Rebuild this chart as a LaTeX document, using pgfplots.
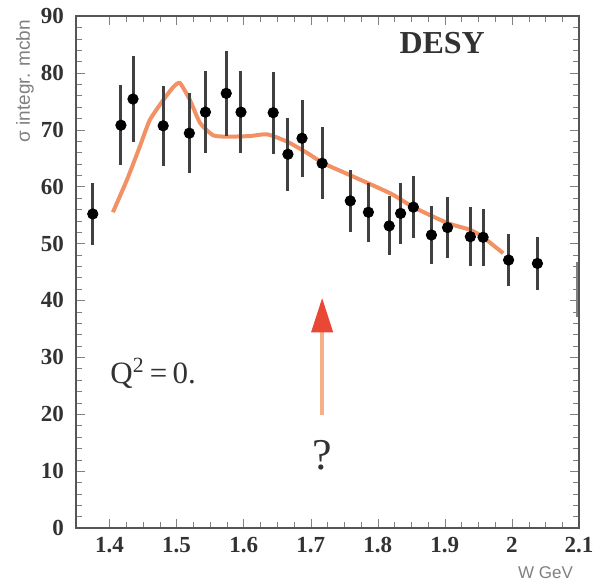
\documentclass[border=0pt]{standalone}
\usepackage{fontspec}
\setmainfont{Liberation Serif}
\setsansfont{Liberation Sans}
\usepackage{pgfplots}
\pgfplotsset{compat=1.18}
\definecolor{fitorange}{RGB}{242,145,100}
\definecolor{arrowshaft}{RGB}{246,175,135}
\definecolor{arrowhead}{RGB}{232,72,52}
\definecolor{framegray}{RGB}{85,85,85}
\definecolor{labgray}{RGB}{50,50,50}
\begin{document}
\begin{tikzpicture}
  \begin{axis}[
    scale only axis,
    width=251.5pt, height=256pt,
    xmin=1.35, xmax=2.1,
    ymin=0, ymax=90,
    xtick={1.4,1.5,1.6,1.7,1.8,1.9,2.0,2.1},
    xticklabels={\textbf{1.4},\textbf{1.5},\textbf{1.6},\textbf{1.7},\textbf{1.8},\textbf{1.9},\textbf{2},\textbf{2.1}},
    ytick={0,10,20,30,40,50,60,70,80,90},
    yticklabels={\textbf{0},\textbf{10},\textbf{20},\textbf{30},\textbf{40},\textbf{50},\textbf{60},\textbf{70},\textbf{80},\textbf{90}},
    minor x tick num=3,
    minor y tick num=4,
    axis line style={framegray, line width=0.9pt},
    tick label style={font=\fontsize{11.5}{11.5}\selectfont, text=labgray},
    yticklabel style={xshift=-2.5pt},
    xticklabel style={yshift=-1pt},
    clip=false,
    axis on top,
  ]
    % orange curve
    \addplot[fitorange, line width=2pt, smooth, tension=0.35] coordinates {
      (1.405,55.5) (1.426,61.2) (1.445,67.0) (1.460,71.7) (1.480,75.2)
      (1.495,77.5) (1.505,78.2) (1.520,75.2) (1.535,71.2) (1.555,69.0)
      (1.580,68.8) (1.610,68.9) (1.635,69.2) (1.665,67.9) (1.695,65.9)
      (1.719,64.1) (1.759,62.0) (1.819,58.8) (1.853,56.4) (1.904,53.6)
      (1.938,52.4) (1.957,51.1) (1.987,48.3)
    };
    % data points
    \addplot[only marks, mark=*, mark size=2.6pt, black,
      error bars/.cd, y dir=both, y explicit,
      error bar style={line width=1.5pt, black!75}, error mark=none]
      coordinates {
      (1.375,55.2) +- (0,5.5)
      (1.417,70.8) +- (0,7.0)
      (1.435,75.4) +- (0,7.5)
      (1.480,70.7) +- (0,7.0)
      (1.519,69.4) +- (0,7.0)
      (1.543,73.1) +- (0,7.2)
      (1.574,76.4) +- (0,7.5)
      (1.596,73.1) +- (0,7.2)
      (1.644,73.0) +- (0,7.2)
      (1.666,65.7) +- (0,6.4)
      (1.687,68.5) +- (0,6.8)
      (1.717,64.1) +- (0,6.3)
      (1.759,57.5) +- (0,5.4)
      (1.786,55.5) +- (0,5.2)
      (1.817,53.1) +- (0,5.2)
      (1.834,55.3) +- (0,5.4)
      (1.853,56.4) +- (0,5.5)
      (1.880,51.5) +- (0,5.1)
      (1.904,52.8) +- (0,5.3)
      (1.938,51.2) +- (0,5.2)
      (1.957,51.1) +- (0,5.0)
      (1.995,47.1) +- (0,4.6)
      (2.038,46.5) +- (0,4.6)
    };
    % arrow
    \draw[arrowshaft, line width=2.2pt] (axis cs:1.717,19.9) -- (axis cs:1.717,35);
    \fill[arrowhead] (axis cs:1.7005,34.4) -- (axis cs:1.717,40.4) -- (axis cs:1.7335,34.4) -- cycle;
    % texts
    \node[font=\fontsize{22}{22}\selectfont, text=labgray] at (axis cs:1.717,12.8) {?};
    \node[font=\fontsize{16}{16}\selectfont\bfseries, text=labgray] at (axis cs:1.896,85.2) {DESY};
    \node[font=\fontsize{15.5}{15.5}\selectfont, text=labgray] at (axis cs:1.465,27.2) {Q\textsuperscript{2}\,=\,0.};
    % grey mark on right frame
    \draw[gray, line width=1.6pt] (axis cs:2.098,37.1) -- (axis cs:2.098,46.7);
    \coordinate (bl) at (rel axis cs:0,0);
    \coordinate (tr) at (rel axis cs:1,1);
    \coordinate (tl) at (rel axis cs:0,1);
    \coordinate (br) at (rel axis cs:1,0);
  \end{axis}
  % axis titles
  \node[rotate=90, anchor=east, font=\sffamily\fontsize{9.5}{9.5}\selectfont, text=gray]
    at ([shift={(-25.5pt,1.5pt)}]tl) {σ integr. mcbn};
  \node[anchor=east, font=\sffamily\fontsize{8.5}{8.5}\selectfont, text=gray]
    at ([shift={(0.5pt,-22.5pt)}]br) {W GeV};
  \pgfresetboundingbox
  \path ([shift={(-38pt,-28pt)}]bl) rectangle ([shift={(7pt,8pt)}]tr);
\end{tikzpicture}
\end{document}
